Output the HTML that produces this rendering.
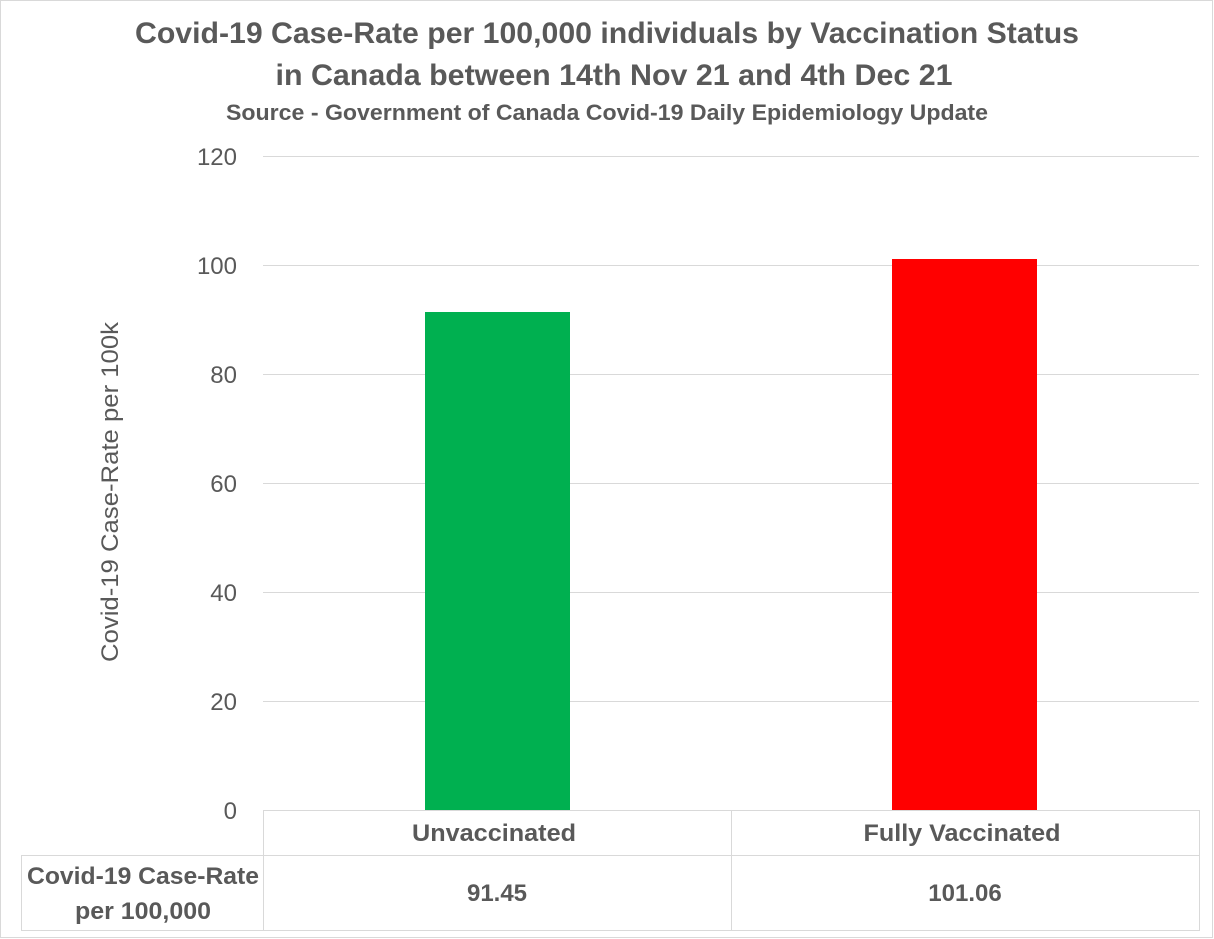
<!DOCTYPE html><html><head><style>
body{margin:0;background:#fff;}
svg{display:block;font-family:"Liberation Sans",Calibri,sans-serif;}
</style></head><body>
<svg width="1214" height="939" xmlns="http://www.w3.org/2000/svg">
<rect x="0.5" y="0.5" width="1212" height="937" fill="#fff" stroke="#d9d9d9"/>
<g fill="#595959" font-weight="bold" text-anchor="middle">
<text x="607" y="43" font-size="30" textLength="944" lengthAdjust="spacingAndGlyphs">Covid-19 Case-Rate per 100,000 individuals by Vaccination Status</text>
<text x="614" y="85" font-size="30" textLength="677" lengthAdjust="spacingAndGlyphs">in Canada between 14th Nov 21 and 4th Dec 21</text>
<text x="607" y="120" font-size="22" textLength="762" lengthAdjust="spacingAndGlyphs">Source - Government of Canada Covid-19 Daily Epidemiology Update</text>
</g>
<g stroke="#d9d9d9" stroke-width="1">
<line x1="263" y1="156.5" x2="1199" y2="156.5"/>
<line x1="263" y1="265.5" x2="1199" y2="265.5"/>
<line x1="263" y1="374.5" x2="1199" y2="374.5"/>
<line x1="263" y1="483.5" x2="1199" y2="483.5"/>
<line x1="263" y1="592.5" x2="1199" y2="592.5"/>
<line x1="263" y1="701.5" x2="1199" y2="701.5"/>
<line x1="263" y1="810.5" x2="1199" y2="810.5"/>
<line x1="263.5" y1="810" x2="263.5" y2="931"/>
<line x1="731.5" y1="810" x2="731.5" y2="931"/>
<line x1="1199.5" y1="810" x2="1199.5" y2="931"/>
<line x1="21" y1="855.5" x2="1199" y2="855.5"/>
<line x1="21" y1="930.5" x2="1199" y2="930.5"/>
<line x1="21.5" y1="855" x2="21.5" y2="931"/>
</g>
<rect x="425" y="312" width="145" height="498" fill="#00b050"/>
<rect x="892" y="259" width="145" height="551" fill="#ff0000"/>
<g fill="#595959" font-size="24" text-anchor="end">
<text x="237" y="165">120</text><text x="237" y="274">100</text><text x="237" y="383">80</text>
<text x="237" y="492">60</text><text x="237" y="601">40</text><text x="237" y="710">20</text><text x="237" y="819">0</text>
</g>
<text transform="translate(118,492) rotate(-90)" fill="#595959" font-size="24" text-anchor="middle" textLength="340" lengthAdjust="spacingAndGlyphs">Covid-19 Case-Rate per 100k</text>
<g fill="#595959" font-size="24" font-weight="bold" text-anchor="middle">
<text x="494" y="841" textLength="164" lengthAdjust="spacingAndGlyphs">Unvaccinated</text>
<text x="962" y="841" textLength="197" lengthAdjust="spacingAndGlyphs">Fully Vaccinated</text>
<text x="497" y="901">91.45</text>
<text x="965" y="901">101.06</text>
<text x="143" y="884" textLength="232" lengthAdjust="spacingAndGlyphs">Covid-19 Case-Rate</text>
<text x="143" y="919" textLength="136" lengthAdjust="spacingAndGlyphs">per 100,000</text>
</g>
</svg>
</body></html>
